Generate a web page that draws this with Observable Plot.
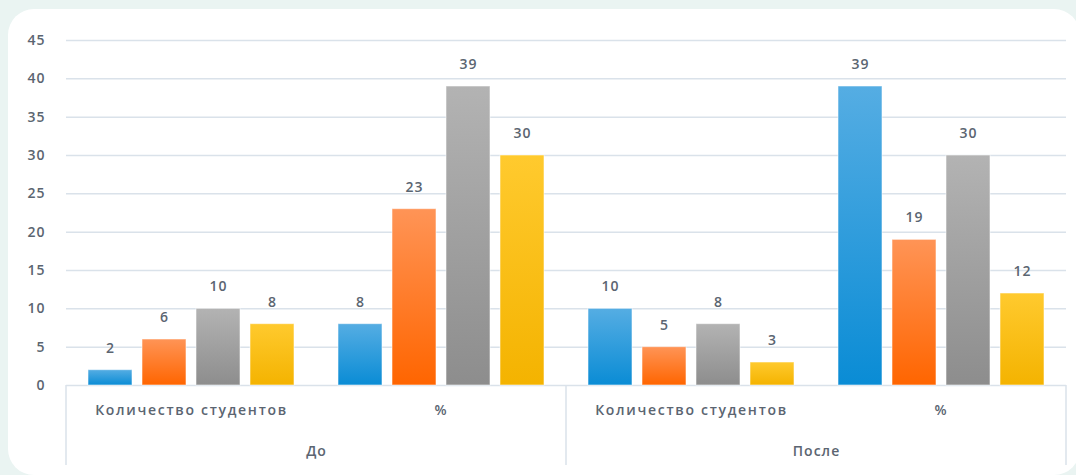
<!DOCTYPE html>
<html><head><meta charset="utf-8">
<script src="https://cdn.jsdelivr.net/npm/d3@7"></script>
<script src="https://cdn.jsdelivr.net/npm/@observablehq/plot@0.6"></script>
<style>
html,body{margin:0;padding:0;background:#eaf4f2;width:1076px;height:475px;overflow:hidden;}
#panel{position:absolute;left:8px;top:9px;width:1072px;height:466px;background:#fff;border-radius:26px;}
#chart{position:absolute;left:0;top:0;}
</style></head><body><div id="panel"></div><div id="chart"></div>
<script>
const groups = ["До", "После"];
const measures = ["Количество студентов", "%"];
const series = ["Ряд 1", "Ряд 2", "Ряд 3", "Ряд 4"];
const doCount = [2, 6, 10, 8];
const doPct = [8, 23, 39, 30];
const posleCount = [10, 5, 8, 3];
const poslePct = [39, 19, 30, 12];
const yTicks = [0, 5, 10, 15, 20, 25, 30, 35, 40, 45];
const colorsTop = ["#55ade3", "#ff9456", "#b3b3b3", "#ffca2e"];
const colorsBottom = ["#0a8cd5", "#ff6500", "#8d8d8d", "#f4b300"];

const valueSets = [[doCount, doPct], [posleCount, poslePct]];
const cats = [];
const rows = [];
groups.forEach((g, gi) => {
  measures.forEach((m, mi) => {
    const cat = g + "|" + m;
    cats.push(cat);
    series.forEach((s, si) => {
      rows.push({cat, group: g, measure: m, series: s, value: valueSets[gi][mi][si], fill: `url(#grad${si})`});
    });
  });
});
const groupLabels = groups.map((g) => ({cat: g + "|" + measures[0], label: g}));

const textColor = "#5b6571";
const gridColor = "#dae2ea";

const plot = Plot.plot({
  width: 1076, height: 475,
  marginLeft: 66, marginRight: 10, marginTop: 40, marginBottom: 90,
  style: {background: "transparent", fontFamily: "'Open Sans', sans-serif", fontSize: "14px", color: textColor, fontWeight: 600, letterSpacing: "1px"},
  fx: {domain: cats, padding: 0, label: null, tickFormat: d => d.split("|")[1], tickSize: 0, tickPadding: 20},
  x: {domain: series, paddingInner: 0.18, paddingOuter: 0.4, axis: null},
  y: {domain: [0, 45], ticks: yTicks, label: null, tickSize: 0, tickPadding: 21},
  color: {type: "identity"},
  marks: [
    Plot.ruleY(yTicks, {stroke: gridColor, strokeWidth: 1.5}),
    Plot.barY(rows, {fx: "cat", x: "series", y: "value", fill: "fill", stroke: "#ffffff", strokeOpacity: 0.55, strokeWidth: 1}),
    Plot.text(rows, {fx: "cat", x: "series", y: "value", text: d => String(d.value), dy: -22, fill: textColor, fontSize: 14, fontWeight: 600}),
    Plot.text(groupLabels, {fx: "cat", text: "label", frameAnchor: "bottom-right", textAnchor: "middle", dy: 70, fill: textColor, fontSize: 14, fontWeight: 600})
  ]
});

const svg = d3.select(plot.tagName.toLowerCase() === "svg" ? plot : plot.querySelector("svg"));
const defs = svg.insert("defs", ":first-child");
series.forEach((s, i) => {
  const lg = defs.append("linearGradient").attr("id", `grad${i}`).attr("x1", 0).attr("y1", 0).attr("x2", 0).attr("y2", 1);
  lg.append("stop").attr("offset", "0%").attr("stop-color", colorsTop[i]);
  lg.append("stop").attr("offset", "100%").attr("stop-color", colorsBottom[i]);
});

// wider letter spacing for the category labels, as in the reference
svg.selectAll("[aria-label='fx-axis tick label'] text, g[aria-label='fx-axis'] text").style("letter-spacing", "1.7px");

// hierarchical category axis dividers, positioned with the plot's scales
const fxs = plot.scale("fx");
const ys = plot.scale("y");
const bw = fxs.bandwidth;
const xAt = (c) => fxs.apply(c);
const y0 = ys.apply(0);
const divX = [xAt(cats[0]), xAt(cats[2]), xAt(cats[3]) + bw];
svg.append("g").selectAll("line").data(divX).join("line")
  .attr("x1", d => d).attr("x2", d => d)
  .attr("y1", y0).attr("y2", y0 + 80)
  .attr("stroke", gridColor).attr("stroke-width", 1.5);

document.getElementById("chart").appendChild(plot);
</script>
</body></html>
